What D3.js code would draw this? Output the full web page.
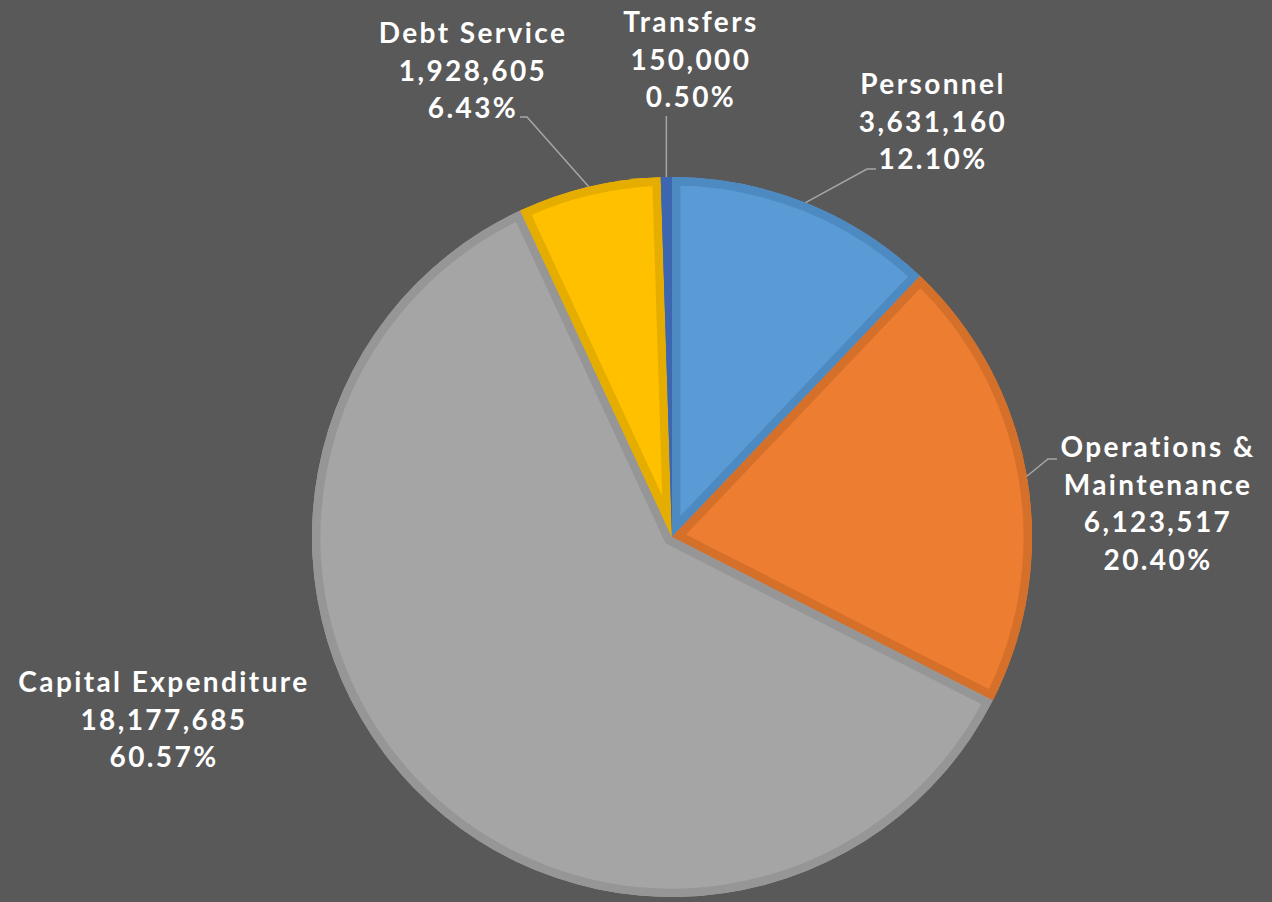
<!DOCTYPE html>
<html>
<head>
<meta charset="utf-8">
<script src="https://cdn.jsdelivr.net/npm/d3@7/dist/d3.min.js"></script>
<style>
  html, body { margin: 0; padding: 0; background: #595959; }
  svg { display: block; }
  text { font-family: "Lato", "DejaVu Sans", sans-serif; font-weight: 700; fill: #ffffff; letter-spacing: 2.4px; }
</style>
</head>
<body>
<svg id="chart" width="1272" height="902"></svg>
<script>
// Budget categories, in drawing order (clockwise from 12 o'clock)
const categories = ["Personnel", "Operations & Maintenance", "Capital Expenditure", "Debt Service", "Transfers"];
const amounts = [3631160, 6123517, 18177685, 1928605, 150000];
const percentLabels = ["12.10%", "20.40%", "60.57%", "6.43%", "0.50%"];
const nameLines = [["Personnel"], ["Operations &", "Maintenance"], ["Capital Expenditure"], ["Debt Service"], ["Transfers"]];

const fills = ["#5B9BD5", "#ED7D31", "#A5A5A5", "#FFC000", "#4472C4"];
const edges = ["#4E8AC2", "#D5702B", "#969696", "#E5AD00", "#3D66B0"];

const svg = d3.select("#chart");
const cx = 672, cy = 537, R = 360;

const data = categories.map((c, i) => ({ name: c, value: amounts[i], i }));
const pie = d3.pie().value(d => d.value).sort(null);
const arcs = pie(data);
const arc = d3.arc().innerRadius(0).outerRadius(R);

const g = svg.append("g").attr("transform", `translate(${cx},${cy})`);
const defs = svg.append("defs");

arcs.forEach((a, i) => {
  defs.append("clipPath").attr("id", "clip" + i)
    .append("path").attr("d", arc(a));
});

const slices = g.selectAll("g.slice").data(arcs).enter().append("g").attr("class", "slice");
slices.append("path")
  .attr("d", d => arc(d))
  .attr("fill", (d, i) => fills[i]);
// darker inset rim along each slice's outline
slices.append("path")
  .attr("d", d => arc(d))
  .attr("fill", "none")
  .attr("stroke", (d, i) => edges[i])
  .attr("stroke-width", 17)
  .attr("stroke-linejoin", "miter")
  .attr("clip-path", (d, i) => `url(#clip${i})`);

// Label layout: text anchor point (center x, first baseline) and leader elbow/end
const labelLayout = [
  { x: 933, y: 94, elbow: [867, 169], end: [876, 169] },
  { x: 1158, y: 457, elbow: [1048, 459], end: [1057, 459] },
  { x: 164, y: 692, elbow: null, end: null },
  { x: 473, y: 43, elbow: [527, 117], end: [520, 117] },
  { x: 691, y: 32, elbow: null, end: [null, 116] }
];
const lineH = 37.5;
const fmt = d3.format(",");

arcs.forEach((a, i) => {
  const L = labelLayout[i];
  const lines = nameLines[i].concat([fmt(amounts[i]), percentLabels[i]]);
  const t = svg.append("text")
    .attr("text-anchor", "middle")
    .attr("font-size", 28);
  lines.forEach((s, k) => {
    t.append("tspan").attr("x", L.x).attr("y", L.y + k * lineH).text(s);
  });

  if (L.end) {
    const mid = (a.startAngle + a.endAngle) / 2;
    const px = cx + R * Math.sin(mid), py = cy - R * Math.cos(mid);
    let pts;
    if (L.elbow) pts = [[px, py], L.elbow, L.end];
    else pts = [[px, py], [px, L.end[1]]];
    svg.append("path")
      .attr("d", d3.line()(pts))
      .attr("fill", "none")
      .attr("stroke", "#A6A6A6")
      .attr("stroke-width", 1.5);
  }
});
</script>
</body>
</html>
